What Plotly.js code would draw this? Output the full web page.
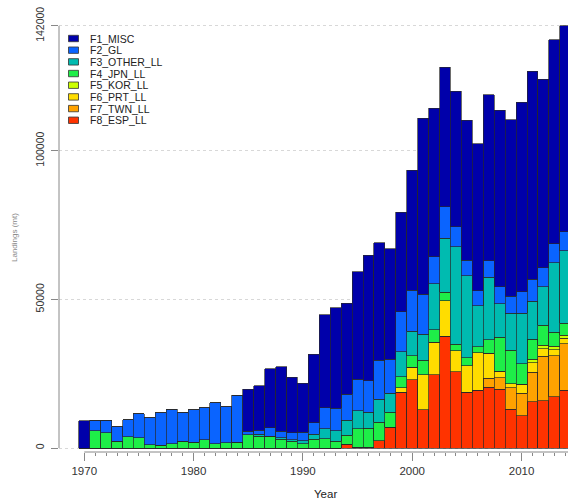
<!DOCTYPE html>
<html><head><meta charset="utf-8">
<script src="https://cdn.plot.ly/plotly-3.0.1.min.js"></script>
<style>html,body{margin:0;padding:0;background:#fff}</style>
</head><body><div id="chart" style="width:568px;height:504px"></div>
<script>
const years = [1970,1971,1972,1973,1974,1975,1976,1977,1978,1979,1980,1981,1982,1983,1984,1985,1986,1987,1988,1989,1990,1991,1992,1993,1994,1995,1996,1997,1998,1999,2000,2001,2002,2003,2004,2005,2006,2007,2008,2009,2010,2011,2012,2013,2014];
const F1_MISC  = [9200,0,0,0,0,0,0,0,0,0,0,0,0,0,0,14000,15000,19800,21700,18600,16500,23000,31200,33800,30600,36200,42200,39500,37100,33400,40500,59100,49900,46900,45600,47100,49400,55900,59400,59300,63900,70000,63300,68600,69200];
const F2_GL    = [0,3600,4300,4900,5700,8200,9100,10900,11700,9900,10900,10900,13800,12100,15700,1200,1400,2800,2300,2500,2800,3900,7100,7600,8800,10600,10500,13100,11500,13500,13700,13500,9200,10700,6700,5200,5100,5600,5800,5800,7100,7500,6500,6400,6400];
const F3_OTHER_LL = [0,0,0,0,0,0,0,0,0,0,0,0,0,0,0,0,700,0,500,500,1000,1700,3400,3500,5000,6000,5500,7800,6300,8500,8200,8700,15500,18100,32800,27500,13700,21000,11200,12400,17000,12700,12900,23300,24400];
const F4_JPN_LL = [0,5800,5100,2300,3800,3400,1100,900,1400,2200,1900,2700,1400,1800,2000,4500,3900,4000,2900,2200,1500,2900,3100,2300,3000,6300,6400,6100,5100,3600,3900,5000,4100,2900,2200,2800,2000,4500,11400,11200,6900,6700,6700,4700,4000];
const F5_KOR_LL = [0,0,0,0,0,0,0,0,0,0,0,0,0,0,0,0,0,0,0,0,0,0,0,0,0,0,0,0,0,0,0,0,0,0,0,0,0,0,0,0,0,1200,1200,1200,1000];
const F6_PRT_LL = [0,0,0,0,0,0,0,0,0,0,0,0,0,0,0,0,0,0,0,0,0,0,0,0,0,0,0,0,0,1600,4300,11800,11000,11900,7000,8800,12600,8400,2200,1500,3100,3200,2600,2100,1900];
const F7_TWN_LL = [0,0,0,0,0,0,0,0,0,0,0,0,0,0,0,0,0,0,0,0,0,0,0,0,0,0,0,0,0,0,0,0,0,0,0,0,0,3100,3900,7100,7600,9900,14900,13700,15600];
const F8_ESP_LL = [0,0,0,0,0,0,0,0,0,0,0,0,0,0,0,0,0,0,0,0,0,0,0,0,1300,200,200,2500,7000,18700,22900,12800,24600,37600,25700,18800,19500,20400,19800,13100,10800,15600,15900,17300,19500];

const seriesNames = ['F1_MISC','F2_GL','F3_OTHER_LL','F4_JPN_LL','F5_KOR_LL','F6_PRT_LL','F7_TWN_LL','F8_ESP_LL'];
const seriesValues = [F1_MISC,F2_GL,F3_OTHER_LL,F4_JPN_LL,F5_KOR_LL,F6_PRT_LL,F7_TWN_LL,F8_ESP_LL];
const seriesColors = ['#0000AA','#0A64FF','#00BBB0','#1EEE48','#CCFF00','#FFDD00','#FFA200','#FF3300'];

const yTickVals = [0,50000,100000,142000];
const yTickText = ['0','50000','100000','142000'];
const xTickVals = [1970,1975,1980,1985,1990,1995,2000,2005,2010];
const xTickText = ['1970','','1980','','1990','','2000','','2010'];
const xTitle = 'Year';
const yTitle = 'Landings (mt)';

const FONT = 'Liberation Sans, Arial, Helvetica, sans-serif';
const L = 59, R = 568, T = 20, B = 452, W = 568, H = 504;
const px2x = p => (p - L) / (R - L);
const px2y = p => (B - p) / (B - T);

const traces = [];
for (let i = seriesNames.length - 1; i >= 0; i--) {
  traces.push({
    type: 'bar', x: years, y: seriesValues[i], name: seriesNames[i],
    marker: {color: seriesColors[i], line: {color: 'rgba(40,40,40,0.85)', width: 0.8}},
    width: 1, showlegend: false, hoverinfo: 'x+y+name'
  });
}

const shapes = [
  {type:'line', xref:'paper', yref:'y', x0:0, x1:0, y0:0, y1:142000, line:{color:'#888', width:1}},
  {type:'line', xref:'x', yref:'paper', x0:1970, x1:2020, y0:0, y1:0, line:{color:'#888', width:1}}
];
const annotations = [];
seriesNames.forEach((n, i) => {
  const cy = 38.5 + i * 11.68;
  shapes.push({type:'rect', xref:'paper', yref:'paper', x0:px2x(68.5), x1:px2x(78.5), y0:px2y(cy+3.2), y1:px2y(cy-3.2),
    fillcolor: seriesColors[i], line:{color:'#333', width:0.8}});
  annotations.push({xref:'paper', yref:'paper', x:px2x(87.5), y:px2y(cy), xanchor:'left', yanchor:'middle',
    text:n, showarrow:false, font:{family:FONT, size:10.5, color:'#222'}});
});
annotations.push({xref:'paper', yref:'paper', x:px2x(325), y:px2y(494), xanchor:'center', yanchor:'middle',
  text:xTitle, showarrow:false, font:{family:FONT, size:11.5, color:'#222'}});
annotations.push({xref:'paper', yref:'paper', x:px2x(14), y:px2y(238), xanchor:'center', yanchor:'middle', textangle:-90,
  text:yTitle, showarrow:false, font:{family:FONT, size:8, color:'#888'}});

const pxPerUnit = (448 - 25.9) / 142000;
const yMin = -(B - 448) / pxPerUnit;
const yMax = 142000 + (25.9 - T) / pxPerUnit;

const layout = {
  width: W, height: H, margin: {l: L, r: W - R, t: T, b: H - B, pad: 0},
  paper_bgcolor: '#fff', plot_bgcolor: '#fff',
  barmode: 'stack', bargap: 0,
  font: {family: FONT, color: '#333'},
  xaxis: {range: [1967.69, 2014.25], tickmode: 'array', tickvals: xTickVals, ticktext: xTickText,
    ticks: 'outside', ticklen: 8, tickcolor: '#888', tickwidth: 1, showgrid: false, zeroline: false, showline: false,
    tickfont: {family: FONT, size: 11.5, color: '#333'},
    minor: {tickmode: 'array', tickvals: years, ticks: 'outside', ticklen: 3, tickcolor: '#888', tickwidth: 1, showgrid: false}},
  yaxis: {range: [yMin, yMax], tickmode: 'array', tickvals: yTickVals, ticktext: yTickText, tickangle: -90,
    ticks: 'outside', ticklen: 7, tickcolor: '#888', tickwidth: 1, showline: false, zeroline: false,
    showgrid: true, gridcolor: '#d8d8d8', griddash: 'dot', gridwidth: 1,
    tickfont: {family: FONT, size: 10.5, color: '#333'}, ticklabelstandoff: 3},
  shapes: shapes, annotations: annotations, showlegend: false
};
Plotly.newPlot('chart', traces, layout, {displayModeBar: false, staticPlot: true});
</script></body></html>
